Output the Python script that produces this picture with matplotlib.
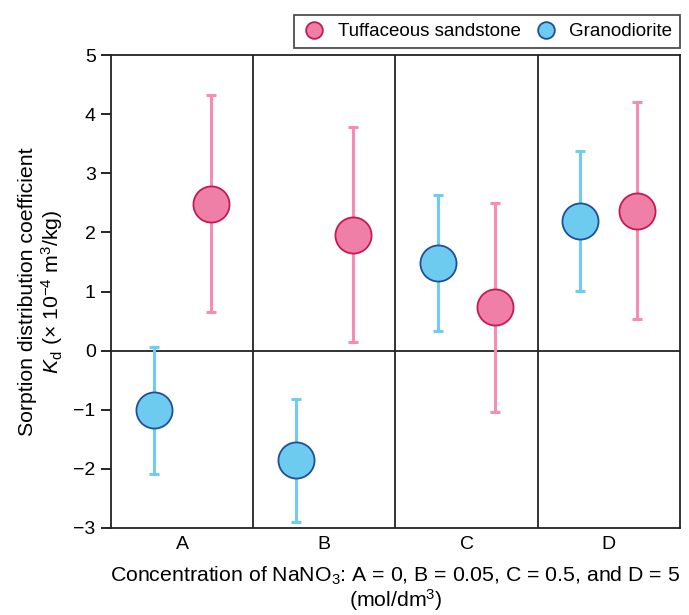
import numpy as np
import matplotlib.pyplot as plt

# --- data ---
groups = ["A", "B", "C", "D"]

tuff_kd = [2.48, 1.96, 0.74, 2.36]
tuff_low = [0.65, 0.14, -1.03, 0.53]
tuff_high = [4.32, 3.78, 2.50, 4.20]

gran_kd = [-1.00, -1.85, 1.48, 2.19]
gran_low = [-2.08, -2.90, 0.33, 1.01]
gran_high = [0.06, -0.81, 2.63, 3.38]

# --- style ---
plt.rcParams['font.family'] = ['Liberation Sans', 'DejaVu Sans']
plt.rcParams['mathtext.fontset'] = 'custom'
plt.rcParams['mathtext.rm'] = 'Liberation Sans'
plt.rcParams['mathtext.it'] = 'Liberation Sans:italic'
plt.rcParams['font.size'] = 13.5

pink_fill, pink_edge, pink_bar = '#f07fa8', '#c8194f', '#f48cb4'
blue_fill, blue_edge, blue_bar = '#6dcbef', '#1f4e9c', '#6fcdf2'

fig = plt.figure(figsize=(6.89, 6.15), dpi=100)
ax = fig.add_axes([0.161, 0.1415, 0.826, 0.769])

x = np.arange(len(groups))
off = 0.2

def draw(xs, kd, low, high, fill, edge, barc, label):
    kd = np.array(kd)
    yerr = [kd - np.array(low), np.array(high) - kd]
    ax.errorbar(xs, kd, yerr=yerr, fmt='none', ecolor=barc, elinewidth=2.2,
                capsize=3.5, capthick=2.2, zorder=3)
    ax.plot(xs, kd, 'o', ms=26, mfc=fill, mec=edge, mew=1.3, zorder=4,
            linestyle='none')
    # proxy for the legend with a smaller marker
    ax.plot([], [], 'o', ms=12, mfc=fill, mec=edge, mew=1.3,
            linestyle='none', label=label)

draw(x + off, tuff_kd, tuff_low, tuff_high, pink_fill, pink_edge, pink_bar,
     'Tuffaceous sandstone')
draw(x - off, gran_kd, gran_low, gran_high, blue_fill, blue_edge, blue_bar,
     'Granodiorite')

# dividers and zero line
for xd in [0.5, 1.5, 2.5]:
    ax.axvline(xd, color='#222222', lw=1.3, zorder=1)
ax.axhline(0, color='#222222', lw=1.3, zorder=1)

ax.set_xlim(-0.5, 3.5)
ax.set_ylim(-3, 5)
ax.set_yticks(np.arange(-3, 6, 1))
ax.set_yticklabels([str(v).replace('-', '\u2212') for v in range(-3, 6)])
ax.set_xticks(x)
ax.set_xticklabels(groups)
ax.tick_params(axis='x', length=0, pad=6, labelsize=14)
ax.tick_params(axis='y', length=7.5, width=1.2, pad=3.5, labelsize=14)
for s in ax.spines.values():
    s.set_linewidth(1.3)
    s.set_color('#222222')

ax.set_ylabel('Sorption distribution coefficient\n'
              '$\\it{K}$$_{\\rm d}$ (\u00d7 10$^{\u22124}$ m$^3$/kg)',
              fontsize=15.3, labelpad=6, linespacing=1.1)
ax.set_xlabel('Concentration of NaNO$_3$: A = 0, B = 0.05, C = 0.5, and D = 5\n'
              '(mol/dm$^3$)', fontsize=15.3, labelpad=8, linespacing=1.0)

leg = ax.legend(loc='lower right', bbox_to_anchor=(1.0, 1.015), ncol=2,
                frameon=True, fancybox=False, edgecolor='#222222',
                handletextpad=0.6, columnspacing=0.7, borderpad=0.42,
                handlelength=1.3, borderaxespad=0, fontsize=13.5)
leg.get_frame().set_linewidth(1.3)

fig.savefig('out.png', dpi=100)
